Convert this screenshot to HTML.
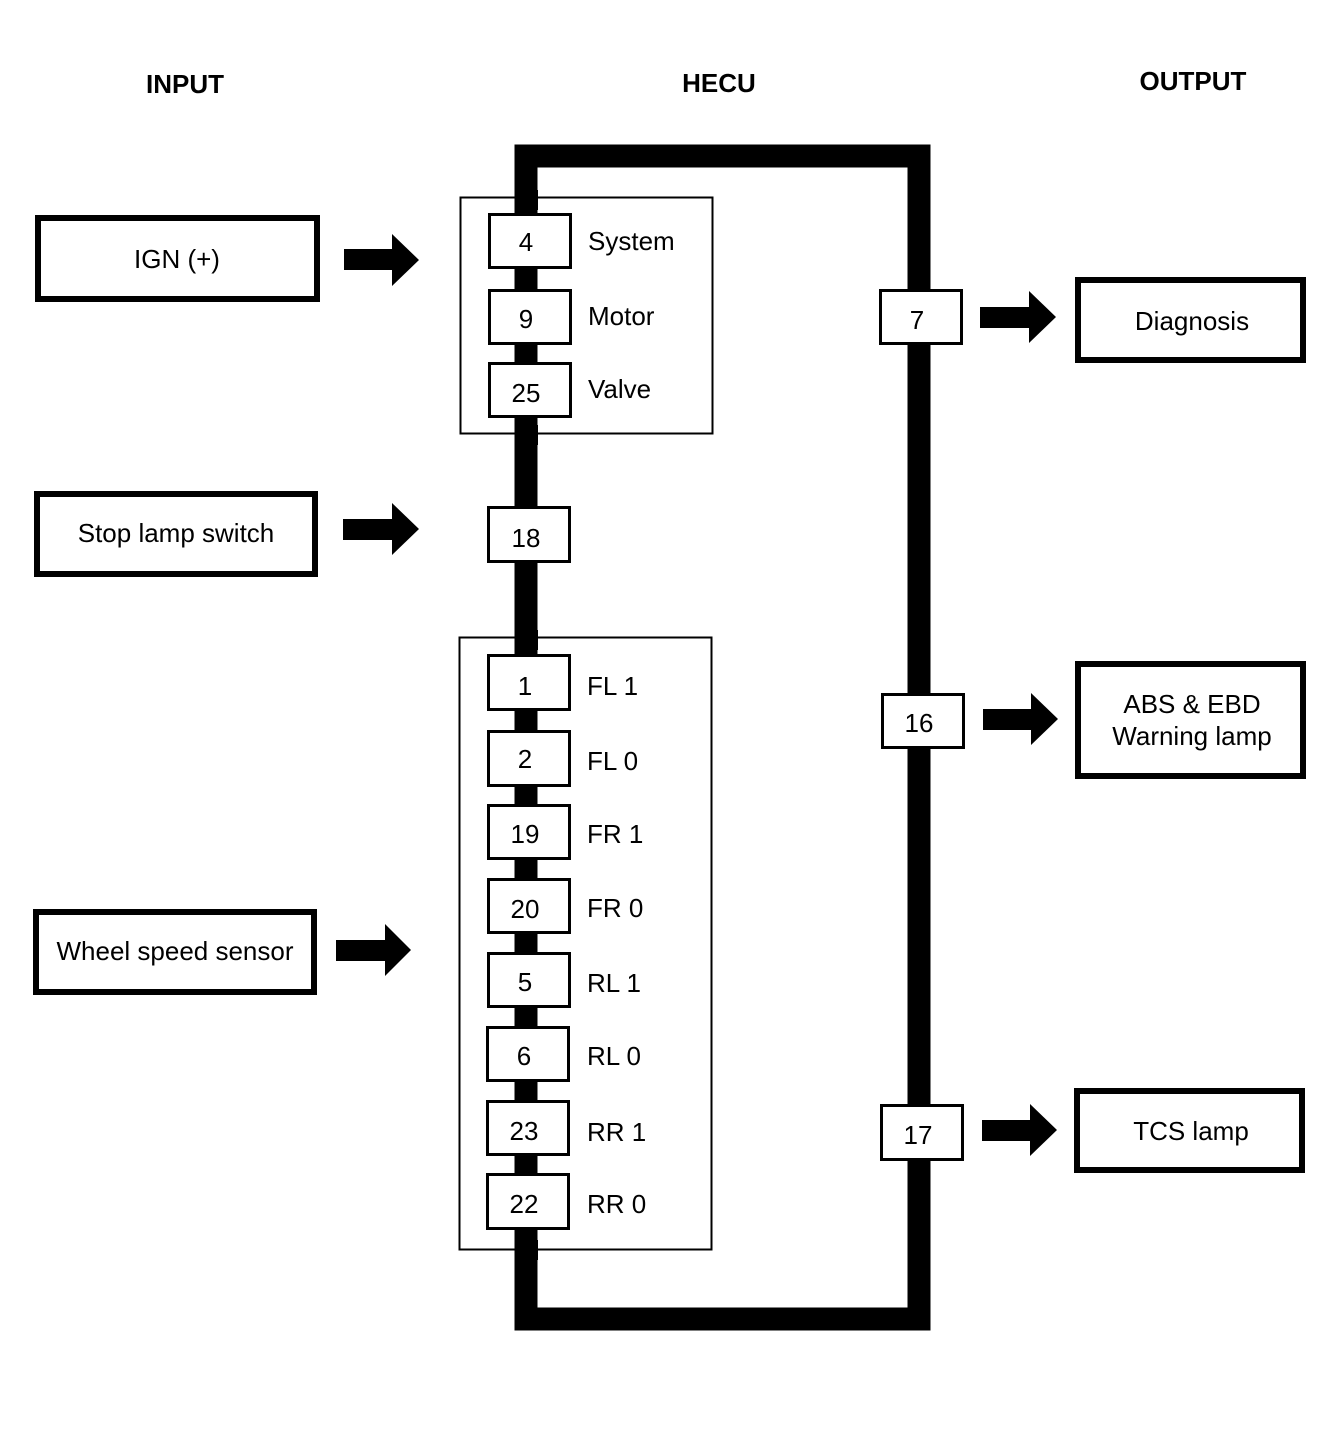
<!DOCTYPE html>
<html><head><meta charset="utf-8"><style>html,body{margin:0;padding:0;background:#fff}svg{display:block}</style></head>
<body>
<svg width="1344" height="1432" viewBox="0 0 1344 1432" xmlns="http://www.w3.org/2000/svg" font-family="Liberation Sans, Arial, sans-serif">
<rect width="1344" height="1432" fill="#fff"/>
<g font-weight="bold" font-size="26" text-anchor="middle" fill="#000">
<text x="185" y="93">INPUT</text>
<text x="719" y="92">HECU</text>
<text x="1193" y="90">OUTPUT</text>
</g>
<path d="M526 1319 V156 H919 V1319 Z" fill="none" stroke="#000" stroke-width="23"/>
<rect x="460.5" y="197.5" width="252" height="236" fill="none" stroke="#000" stroke-width="2"/>
<rect x="459.5" y="637.5" width="252" height="612" fill="none" stroke="#000" stroke-width="2"/>
<rect x="515" y="190" width="23" height="20" fill="#000"/>
<rect x="515" y="425" width="23" height="20" fill="#000"/>
<rect x="515" y="630" width="23" height="20" fill="#000"/>
<rect x="515" y="1240" width="23" height="20" fill="#000"/>
<g fill="#fff" stroke="#000" stroke-width="3">
<rect x="489.5" y="214.5" width="81" height="53"/>
<rect x="489.5" y="290.5" width="81" height="53"/>
<rect x="489.5" y="363.5" width="81" height="53"/>
<rect x="488.5" y="507.5" width="81" height="54"/>
<rect x="488.5" y="655.5" width="81" height="54"/>
<rect x="488.5" y="731.5" width="81" height="54"/>
<rect x="488.5" y="805.5" width="81" height="53"/>
<rect x="488.5" y="879.5" width="81" height="53"/>
<rect x="488.5" y="953.5" width="81" height="53"/>
<rect x="487.5" y="1027.5" width="81" height="53"/>
<rect x="487.5" y="1101.5" width="81" height="53"/>
<rect x="487.5" y="1174.5" width="81" height="54"/>
<rect x="880.5" y="290.5" width="81" height="53"/>
<rect x="882.5" y="694.5" width="81" height="53"/>
<rect x="881.5" y="1105.5" width="81" height="54"/>
</g>
<g font-size="26" text-anchor="middle" fill="#000">
<text x="526" y="251">4</text>
<text x="526" y="328">9</text>
<text x="526" y="402">25</text>
<text x="526" y="547">18</text>
<text x="525" y="695">1</text>
<text x="525" y="768">2</text>
<text x="525" y="843">19</text>
<text x="525" y="918">20</text>
<text x="525" y="991">5</text>
<text x="524" y="1065">6</text>
<text x="524" y="1140">23</text>
<text x="524" y="1213">22</text>
<text x="917" y="329">7</text>
<text x="919" y="732">16</text>
<text x="918" y="1144">17</text>
</g>
<g font-size="26" fill="#000">
<text x="588" y="250">System</text>
<text x="588" y="325">Motor</text>
<text x="588" y="398">Valve</text>
<text x="587" y="695">FL 1</text>
<text x="587" y="770">FL 0</text>
<text x="587" y="843">FR 1</text>
<text x="587" y="917">FR 0</text>
<text x="587" y="992">RL 1</text>
<text x="587" y="1065">RL 0</text>
<text x="587" y="1141">RR 1</text>
<text x="587" y="1213">RR 0</text>
</g>
<g fill="none" stroke="#000" stroke-width="6">
<rect x="38" y="218" width="279" height="81"/>
<rect x="37" y="494" width="278" height="80"/>
<rect x="36" y="912" width="278" height="80"/>
<rect x="1078" y="280" width="225" height="80"/>
<rect x="1078" y="664" width="225" height="112"/>
<rect x="1077" y="1091" width="225" height="79"/>
</g>
<g font-size="26" text-anchor="middle" fill="#000">
<text x="177" y="268">IGN (+)</text>
<text x="176" y="542">Stop lamp switch</text>
<text x="175" y="960">Wheel speed sensor</text>
<text x="1192" y="330">Diagnosis</text>
<text x="1192" y="713">ABS &amp; EBD</text>
<text x="1192" y="745">Warning lamp</text>
<text x="1191" y="1140">TCS lamp</text>
</g>
<g fill="#000">
<path d="M344 249 H392 V234 L419 260 L392 286 V270 H344 Z"/>
<path d="M343 519 H392 V503 L419 529 L392 555 V540 H343 Z"/>
<path d="M336 940 H385 V924 L411 950 L385 976 V961 H336 Z"/>
<path d="M980 307 H1029 V291 L1056 317 L1029 343 V328 H980 Z"/>
<path d="M983 709 H1031 V693 L1058 719 L1031 745 V730 H983 Z"/>
<path d="M982 1120 H1030 V1104 L1057 1130 L1030 1156 V1141 H982 Z"/>
</g>
</svg>
</body></html>
